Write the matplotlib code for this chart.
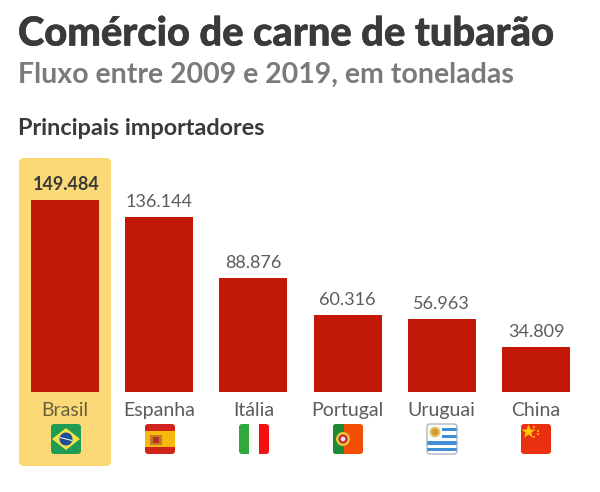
import matplotlib
matplotlib.use("Agg")
import matplotlib.pyplot as plt
import matplotlib.patheffects as pe
from matplotlib.patches import FancyBboxPatch, Rectangle, Circle, Polygon

# Data
paises = ["Brasil", "Espanha", "Itália", "Portugal", "Uruguai", "China"]
toneladas = [149484, 136144, 88876, 60316, 56963, 34809]
rotulos = ["149.484", "136.144", "88.876", "60.316", "56.963", "34.809"]

W, H = 600, 492
PITCH = 94.2
RED = "#c21807"
DARK = "#3a3a3a"
GREY = "#7a7a7a"
THIN = "#5c5c5c"
plt.rcParams["font.family"] = ["Lato", "DejaVu Sans"]

fig = plt.figure(figsize=(W / 100, H / 100), dpi=100, facecolor="white")

# pixel layer behind the bars (highlight box, flags)
bg = fig.add_axes([0, 0, 1, 1], zorder=0)
bg.set_xlim(0, W)
bg.set_ylim(H, 0)
bg.axis("off")

# bar axes: baseline at y=392px, 192px = 149484
top_px = 150
ax = fig.add_axes([0, (H - 392) / H, 1, (392 - top_px) / H], zorder=1)
ax.patch.set_alpha(0)
ax.set_xlim(-65 / PITCH, (W - 65) / PITCH)
ax.set_ylim(0, (392 - top_px) * max(toneladas) / 192)
ax.axis("off")

bg.add_patch(FancyBboxPatch((19, 158), 92, 308, boxstyle="round,pad=0,rounding_size=5",
                            fc="#fbd977", ec="none"))

bars = ax.bar(range(len(paises)), toneladas, width=68 / PITCH, color=RED)
for i, (b, r) in enumerate(zip(bars, rotulos)):
    ax.annotate(r, (b.get_x() + b.get_width() / 2, b.get_height()), xytext=(1 if i == 0 else 0, 5),
                textcoords="offset points", ha="center", va="bottom",
                fontsize=13, color=DARK if i == 0 else THIN,
                fontweight="bold" if i == 0 else "normal")
    ax.annotate(paises[i], (i, 0), xytext=(0, -7), textcoords="offset points",
                ha="center", va="top", fontsize=14, fontweight="normal",
                color="#66603f" if i == 0 else THIN, annotation_clip=False)

heavy = [pe.withStroke(linewidth=0.4, foreground=DARK)]
fig.text(18 / W, 1 - 34 / H, "Comércio de carne de tubarão", fontsize=28.7,
         fontweight="black", color=DARK, va="center", path_effects=heavy)
fig.text(18 / W, 1 - 75 / H, "Fluxo entre 2009 e 2019, em toneladas", fontsize=20.5,
         fontweight="bold", color=GREY, va="center")
fig.text(18 / W, 1 - 128 / H, "Principais importadores", fontsize=16.9,
         fontweight="bold", color=DARK, va="center")


# flags, 30x30px rounded squares
def flag(i):
    cx = 66 + 94 * i
    x0, y0, s = cx - 15, 424, 30
    clip = FancyBboxPatch((x0, y0), s, s, boxstyle="round,pad=0,rounding_size=3",
                          fc="none", ec="none", transform=bg.transData)
    bg.add_patch(clip)
    parts = []
    if i == 0:
        parts = [Rectangle((x0, y0), s, s, fc="#1f9d55"),
                 Polygon([(x0 + 1, y0 + 15), (cx, y0 + 4), (x0 + 29, y0 + 15), (cx, y0 + 26)], fc="#f2e24a"),
                 Circle((cx, y0 + 15), 6.5, fc="#1c4e9a"),
                 Polygon([(x0 + 9, y0 + 13), (x0 + 21, y0 + 16), (x0 + 21, y0 + 17), (x0 + 9, y0 + 14)], fc="white")]
    elif i == 1:
        parts = [Rectangle((x0, y0), s, s, fc="#d0241c"),
                 Rectangle((x0, y0 + 7), s, 16, fc="#f8b90f"),
                 Rectangle((x0 + 5, y0 + 11), 12, 10, fc="#c9772a"),
                 Rectangle((x0 + 8, y0 + 13), 6, 6, fc="#b5301c")]
    elif i == 2:
        parts = [Rectangle((x0, y0), 10, s, fc="#2fa83c"),
                 Rectangle((x0 + 10, y0), 10, s, fc="white"),
                 Rectangle((x0 + 20, y0), 10, s, fc="#f50f0f")]
    elif i == 3:
        parts = [Rectangle((x0, y0), s, s, fc="#f24e05"),
                 Rectangle((x0, y0), 11, s, fc="#1d8a34"),
                 Circle((x0 + 10, y0 + 15), 7, fc="#e6c63a"),
                 Circle((x0 + 10, y0 + 15), 4.5, fc="#c8202a"),
                 Circle((x0 + 10, y0 + 15), 2.4, fc="#e8e8f0")]
    elif i == 4:
        parts = [Rectangle((x0, y0), s, s, fc="white")]
        for k, yy in enumerate([3.5, 10.5, 17, 23.5]):
            parts.append(Rectangle((x0 + (15 if k < 2 else 0), y0 + yy),
                                   15 if k < 2 else s, 3.6, fc="#3f8fd6"))
        parts.append(Circle((x0 + 8, y0 + 8), 5.5, fc="#e3c777"))
        parts.append(Circle((x0 + 8, y0 + 8), 3.5, fc="#d49a2a"))
    else:
        parts = [Rectangle((x0, y0), s, s, fc="#ea3010")]
        for dx, dy in [(13, 3), (17, 7), (17, 10), (13, 13)]:
            parts.append(Circle((x0 + dx, y0 + dy), 1, fc="#ffc800"))
    for p in parts:
        p.set_edgecolor("none")
        bg.add_patch(p)
        p.set_clip_path(clip)
    if i == 4:
        bg.add_patch(FancyBboxPatch((x0, y0), s, s, boxstyle="round,pad=0,rounding_size=3",
                                    fc="none", ec="#9aa5b0", lw=0.8))
    if i == 5:
        bg.plot(x0 + 6.5, y0 + 7, marker="*", ms=10, color="#ffc800", mec="none")


for i in range(len(paises)):
    flag(i)

fig.savefig("out.png", dpi=100)
